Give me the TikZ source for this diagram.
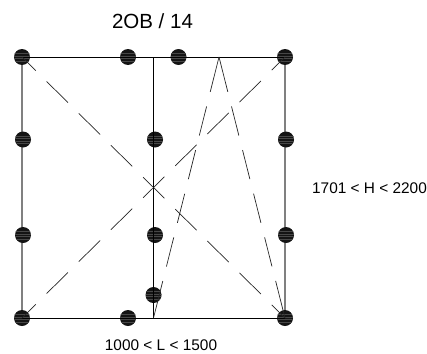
\documentclass[tikz,border=0pt]{standalone}
\usepackage{fontspec}
\setmainfont{Liberation Sans}
\usetikzlibrary{positioning, calc, backgrounds}

\begin{document}
\begin{tikzpicture}[
    x=1pt, y=-1pt,
    % Styles
    dot/.style={ % Hatched fixing point
        circle,
        minimum size=16pt,
        inner sep=0pt,
        fill=black!92,
        path picture={
            \foreach \Y in {-3.5, -1, 1.5, 4} {
                \draw[black!72, line width=.3pt]
                    ($(path picture bounding box.center)+(-8, \Y)$) -- ++(16, 0);
            }
        }
    },
    frame/.style={
        black,
        line width=.9pt
    },
    post/.style={ % Outer uprights
        gray,
        line width=1.3pt
    },
    diag/.style={ % Long dashed diagonals
        black!85,
        line width=.7pt,
        dash pattern=on 30pt off 15.3pt,
        dash phase=10.6pt
    },
    slant/.style={ % Dashed lines from the apex
        black!85,
        line width=.7pt,
        dash pattern=on 36pt off 15pt on 30pt off 15pt on 30pt off 15pt on 30pt off 15pt on 30pt off 15pt on 40pt off 15pt
    },
    label/.style={
        font=\fontsize{15.4pt}{18pt}\selectfont,
        inner sep=0pt
    }
]
    \useasboundingbox (0, 0) rectangle (427, 353);

    % Fixing points
    \node[dot] (tl) at (22, 57) {};
    \node[dot] (t1) at (128, 57) {};
    \node[dot] (t2) at (178.5, 57) {};
    \node[dot] (tr) at (285, 57) {};
    \node[dot] (l1) at (23, 139.5) {};
    \node[dot] (l2) at (23, 235) {};
    \node[dot] (m1) at (155, 139.5) {};
    \node[dot] (m2) at (155, 235) {};
    \node[dot] (m3) at (153.5, 295) {};
    \node[dot] (r1) at (286, 139.5) {};
    \node[dot] (r2) at (286, 235) {};
    \node[dot] (bl) at (22, 318) {};
    \node[dot] (b1) at (128, 318) {};
    \node[dot] (br) at (285, 318) {};

    % Free ends on the frame
    \coordinate (midt) at (153.5, 57);
    \coordinate (midb) at (153.5, 318);
    \coordinate (apex) at (219, 57);

    % Uprights behind the points
    \begin{scope}[on background layer]
        \draw[post] (tl.center) -- (bl.center);
        \draw[post] (tr.center) -- (br.center);
    \end{scope}

    % Frame
    \draw[frame] (tl.center) -- (tr.center);
    \draw[frame] (bl.center) -- (br.center);
    \draw[frame] (midt) -- (midb);

    % Diagonals
    \draw[diag] (tl.center) -- (br.center);
    \draw[diag] (bl.center) -- (tr.center);

    % Lines from the apex
    \draw[slant] (apex) -- (midb);
    \draw[slant] (apex) -- (br.center);

    % Labels
    \node[label, font=\fontsize{20.5pt}{24pt}\selectfont] (title) at (152.5, 21) {2OB / 14};
    \node[label] (height) at (369.5, 188) {1701 < H < 2200};
    \node[label] (length) at (161, 345) {1000 < L < 1500};
\end{tikzpicture}
\end{document}
